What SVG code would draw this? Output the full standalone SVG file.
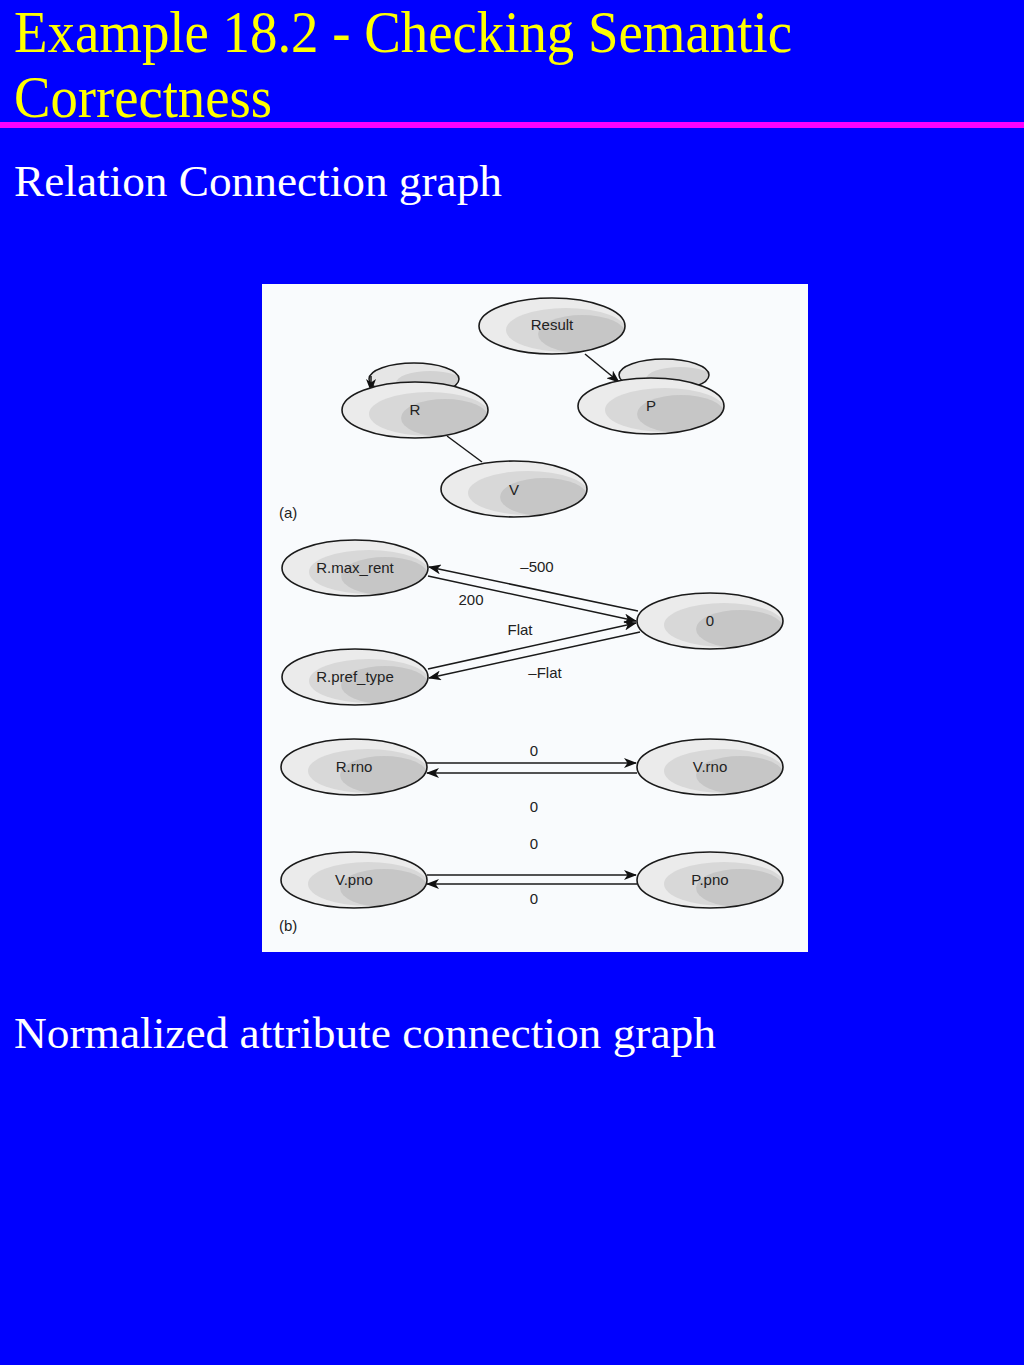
<svg xmlns="http://www.w3.org/2000/svg" xmlns:xlink="http://www.w3.org/1999/xlink" width="1024" height="1365" viewBox="0 0 1024 1365">
<style>
.title{font-family:"Liberation Serif","Times New Roman",serif;fill:#ffff00;font-size:59px}
.head{font-family:"Liberation Serif","Times New Roman",serif;fill:#ffffff;font-size:45px}
.lbl{font-family:"Liberation Sans",Arial,sans-serif;fill:#222;font-size:15px;text-anchor:middle}
.el{font-family:"Liberation Sans",Arial,sans-serif;fill:#222;font-size:15px}
.ln{stroke:#1a1a1a;stroke-width:1.5;fill:none}
</style>
<defs>
<marker id="ah" markerWidth="13" markerHeight="10" refX="12" refY="5" orient="auto" markerUnits="userSpaceOnUse">
<path d="M0,0 L13,5 L0,10 L3.5,5 z" fill="#111"/>
</marker>
<clipPath id="ec"><ellipse cx="0" cy="0" rx="73" ry="28"/></clipPath>
<g id="ell">
<ellipse cx="0" cy="0" rx="73" ry="28" fill="#ebebeb"/>
<g clip-path="url(#ec)">
<ellipse cx="14" cy="4" rx="60" ry="22" fill="#d8d8d8"/>
<ellipse cx="30" cy="8" rx="44" ry="19" fill="#c6c6c6"/>
</g>
<ellipse cx="0" cy="0" rx="73" ry="28" fill="none" stroke="#1a1a1a" stroke-width="1.6"/>
</g>
<clipPath id="lc"><ellipse cx="0" cy="0" rx="45" ry="16"/></clipPath>
<g id="loop">
<ellipse cx="0" cy="0" rx="45" ry="16" fill="#e6e6e6"/>
<g clip-path="url(#lc)"><ellipse cx="16" cy="4" rx="34" ry="12" fill="#d2d2d2"/></g>
<ellipse cx="0" cy="0" rx="45" ry="16" fill="none" stroke="#1a1a1a" stroke-width="1.5"/>
</g>
</defs>
<rect x="0" y="0" width="1024" height="1365" fill="#0000ff"/>
<text class="title" x="14" y="52" textLength="778" lengthAdjust="spacingAndGlyphs">Example 18.2 - Checking Semantic</text>
<text class="title" x="14" y="117" textLength="258" lengthAdjust="spacingAndGlyphs">Correctness</text>
<rect x="0" y="122" width="1024" height="6" fill="#ff00ff"/>
<text class="head" x="14" y="196" textLength="488" lengthAdjust="spacingAndGlyphs">Relation Connection graph</text>
<text class="head" x="14" y="1048" textLength="702" lengthAdjust="spacingAndGlyphs">Normalized attribute connection graph</text>
<rect x="262" y="284" width="546" height="668" fill="#f9fbfd"/>

<g id="loops">
<use xlink:href="#loop" transform="translate(414,379)"/>
<use xlink:href="#loop" transform="translate(664,375)"/>
</g>

<g id="connectors">
<line class="ln" x1="585" y1="354" x2="619" y2="382" marker-end="url(#ah)"/>
<path d="M371,376 L371,391" class="ln" marker-end="url(#ah)"/>
<line class="ln" x1="447" y1="436" x2="482" y2="462"/>
<line class="ln" x1="638" y1="611" x2="429" y2="567" marker-end="url(#ah)"/>
<line class="ln" x1="428" y1="576" x2="636" y2="621" marker-end="url(#ah)"/>
<line class="ln" x1="428" y1="669" x2="636" y2="623" marker-end="url(#ah)"/>
<line class="ln" x1="640" y1="632" x2="429" y2="678" marker-end="url(#ah)"/>
<line class="ln" x1="427" y1="763" x2="636" y2="763" marker-end="url(#ah)"/>
<line class="ln" x1="637" y1="773" x2="427" y2="773" marker-end="url(#ah)"/>
<line class="ln" x1="427" y1="875" x2="636" y2="875" marker-end="url(#ah)"/>
<line class="ln" x1="637" y1="884" x2="427" y2="884" marker-end="url(#ah)"/>
<text class="lbl" x="537" y="572">–500</text>
<text class="lbl" x="471" y="605">200</text>
<text class="lbl" x="520" y="635">Flat</text>
<text class="lbl" x="545" y="678">–Flat</text>
<text class="lbl" x="534" y="756">0</text>
<text class="lbl" x="534" y="812">0</text>
<text class="lbl" x="534" y="849">0</text>
<text class="lbl" x="534" y="904">0</text>
</g>

<g id="node-result"><use xlink:href="#ell" transform="translate(552,326)"/><text class="el" x="552" y="330" text-anchor="middle">Result</text></g>
<g id="node-r"><use xlink:href="#ell" transform="translate(415,410)"/><text class="el" x="415" y="415" text-anchor="middle">R</text></g>
<g id="node-p"><use xlink:href="#ell" transform="translate(651,406)"/><text class="el" x="651" y="411" text-anchor="middle">P</text></g>
<g id="node-v"><use xlink:href="#ell" transform="translate(514,489)"/><text class="el" x="514" y="495" text-anchor="middle">V</text></g>
<text class="el" x="279" y="518" font-size="13">(a)</text>

<g id="node-rmaxrent"><use xlink:href="#ell" transform="translate(355,568)"/><text class="el" x="355" y="573" text-anchor="middle">R.max_rent</text></g>
<g id="node-rpreftype"><use xlink:href="#ell" transform="translate(355,677)"/><text class="el" x="355" y="682" text-anchor="middle">R.pref_type</text></g>
<g id="node-zero"><use xlink:href="#ell" transform="translate(710,621)"/><text class="el" x="710" y="626" text-anchor="middle">0</text></g>
<g id="node-rrno"><use xlink:href="#ell" transform="translate(354,767)"/><text class="el" x="354" y="772" text-anchor="middle">R.rno</text></g>
<g id="node-vrno"><use xlink:href="#ell" transform="translate(710,767)"/><text class="el" x="710" y="772" text-anchor="middle">V.rno</text></g>
<g id="node-vpno"><use xlink:href="#ell" transform="translate(354,880)"/><text class="el" x="354" y="885" text-anchor="middle">V.pno</text></g>
<g id="node-ppno"><use xlink:href="#ell" transform="translate(710,880)"/><text class="el" x="710" y="885" text-anchor="middle">P.pno</text></g>
<text class="el" x="279" y="931" font-size="13">(b)</text>
</svg>
